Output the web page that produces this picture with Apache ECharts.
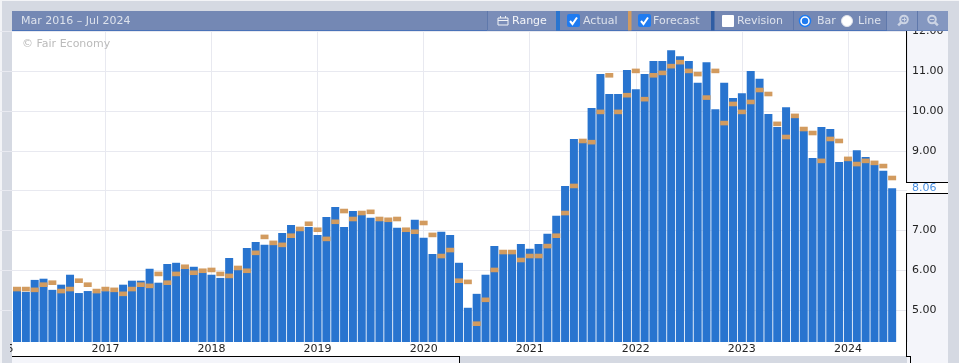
<!DOCTYPE html>
<html>
<head>
<meta charset="utf-8">
<title>Mar 2016 – Jul 2024</title>
<style>
html, body { margin: 0; padding: 0; background: #fff; }
#main { width: 959px; height: 363px; }
</style>
<script src="https://cdn.jsdelivr.net/npm/echarts@6/dist/echarts.min.js"></script>
</head>
<body>
<div id="main"></div>
<script>
// months counted from Jan 2016, first bar is Mar 2016
var firstMonth = 2;
var firstYear = 2016;

var actual = [
    5.51, 5.46, 5.76, 5.79, 5.51, 5.64, 5.89, 5.43, 5.48, 5.43,
    5.48, 5.46, 5.64, 5.74, 5.74, 6.04, 5.69, 6.16, 6.19, 6.04,
    6.09, 5.94, 5.89, 5.81, 6.31, 6.01, 6.56, 6.71, 6.64, 6.64,
    6.94, 7.14, 6.99, 7.09, 6.89, 7.34, 7.59, 7.09, 7.49, 7.39,
    7.32, 7.24, 7.22, 7.07, 6.97, 7.27, 6.82, 6.41, 6.97, 6.89,
    6.19, 5.06, 5.41, 5.89, 6.61, 6.41, 6.41, 6.66, 6.54, 6.66,
    6.92, 7.37, 8.12, 9.30, 9.22, 10.08, 10.93, 10.43, 10.43, 11.03,
    10.55, 10.93, 11.26, 11.26, 11.53, 11.38, 11.26, 10.71, 11.23, 10.05,
    10.71, 10.33, 10.45, 11.01, 10.81, 9.93, 9.60, 10.10, 9.83, 9.50,
    8.82, 9.60, 9.55, 8.72, 8.75, 9.02, 8.85, 8.65, 8.50, 8.06
];

var forecast = [
    5.53, 5.53, 5.51, 5.64, 5.69, 5.48, 5.53, 5.74, 5.64, 5.48,
    5.53, 5.51, 5.41, 5.53, 5.64, 5.61, 5.91, 5.69, 5.91, 6.09,
    5.94, 5.99, 6.01, 5.91, 5.86, 6.06, 5.99, 6.44, 6.84, 6.69,
    6.64, 6.87, 7.04, 7.17, 7.02, 6.79, 7.22, 7.49, 7.29, 7.44,
    7.47, 7.29, 7.27, 7.29, 7.02, 6.97, 7.19, 6.89, 6.36, 6.51,
    5.74, 5.71, 4.66, 5.26, 6.01, 6.46, 6.46, 6.26, 6.36, 6.36,
    6.61, 6.87, 7.44, 8.12, 9.25, 9.22, 9.98, 10.90, 9.98, 10.40,
    11.01, 10.30, 10.90, 10.96, 11.13, 11.23, 11.01, 10.93, 10.34, 11.01,
    9.70, 10.18, 9.98, 10.23, 10.53, 10.43, 9.68, 9.35, 9.88, 9.55,
    9.45, 8.75, 9.30, 9.25, 8.80, 8.67, 8.75, 8.70, 8.62, 8.32
];

var rangeLabel = 'Mar 2016 – Jul 2024';
var credit = '© Fair Economy';

function pairs(list) {
    return list.map(function (v, i) { return [firstMonth + i, v]; });
}

var font = '"DejaVu Sans"';
var barBlue = '#2874cf';
var markOrange = '#d29b5f';
var headText = '#dde2ec';

function box(x, y, w, h, fill, z, r) {
    return { type: 'rect', silent: true, z: z, shape: { x: x, y: y, width: w, height: h, r: r || 0 }, style: { fill: fill } };
}
function rule(x1, y1, x2, y2, color, z) {
    return { type: 'line', silent: true, z: z, shape: { x1: x1, y1: y1, x2: x2, y2: y2 }, style: { stroke: color, lineWidth: 1 } };
}
function label(x, y, str, fill, z, size) {
    return { type: 'text', silent: true, z: z, x: x, y: y, style: { text: str, fill: fill, font: (size || 11) + 'px ' + font, textVerticalAlign: 'middle' } };
}
function tickBox(x) {
    return [
        box(x, 14, 13, 13, '#1f7bf0', 51, 2),
        { type: 'polyline', silent: true, z: 52, shape: { points: [[x + 3, 21], [x + 5.5, 24], [x + 10, 17.5]] }, style: { stroke: '#fff', lineWidth: 2, fill: null } }
    ];
}
function radio(cx, on) {
    var out = [{ type: 'circle', silent: true, z: 51, shape: { cx: cx, cy: 21, r: 5.5 }, style: { fill: '#fff', stroke: on ? '#1f7bf0' : '#dfe3ec', lineWidth: on ? 1.5 : 1 } }];
    if (on) {
        out.push({ type: 'circle', silent: true, z: 52, shape: { cx: cx, cy: 21, r: 3.2 }, style: { fill: '#1f7bf0' } });
    }
    return out;
}
// dir -1 handle runs down left, dir 1 handle runs down right
function glass(cx, dir) {
    return [
        { type: 'circle', silent: true, z: 51, shape: { cx: cx, cy: 19.5, r: 3.8 }, style: { fill: null, stroke: '#ccd4e4', lineWidth: 2 } },
        { type: 'line', silent: true, z: 51, shape: { x1: cx + dir * 2.8, y1: 22.3, x2: cx + dir * 5.8, y2: 25.3 }, style: { stroke: '#ccd4e4', lineWidth: 2.5 } }
    ];
}

var panels = [
    // page frame
    box(0, 0, 959, 363, '#f3f4f7', -10),
    box(2, 1, 957, 362, '#d5d9e2', -9),
    box(12, 31, 895, 325, '#ffffff', -8),
    box(907, 31, 41, 332, '#f4f5fa', -8),
    box(12, 357, 447, 6, '#f4f5fa', -8),
    // frame lines
    rule(12, 356.5, 460, 356.5, '#000', 3),
    rule(459.5, 356, 459.5, 363, '#000', 3),
    rule(906.5, 31, 906.5, 182, '#000', 3),
    rule(906.5, 193, 906.5, 356, '#000', 3),
    rule(906, 356.5, 911, 356.5, '#000', 3),
    rule(910.5, 356, 910.5, 363, '#000', 3),
    // tag behind latest value
    box(907, 183, 41, 10, '#ffffff', 3),
    rule(906, 182.5, 948, 182.5, '#000', 3),
    rule(906, 193.5, 948, 193.5, '#000', 3),
    // left cover, only the end of the first year label shows
    box(2, 342, 8, 14, '#d5d9e2', 50),
    box(0, 342, 2, 14, '#f3f4f7', 50),
    // toolbar
    box(12, 11, 936, 19.5, '#7488b4', 50),
    box(12, 30, 936, 1, '#4a72b8', 50),
    box(487, 11, 69, 19.5, '#7a8db8', 50),
    box(556, 11, 4, 19.5, '#2a75cf', 51),
    box(628, 11, 3.5, 19.5, '#d29b5f', 51),
    box(711, 11, 3.5, 19.5, '#2f5da3', 51),
    box(887, 11, 30, 19.5, '#8497c0', 50),
    box(918, 11, 30, 19.5, '#8497c0', 50),
    rule(487.5, 11, 487.5, 30, '#5f78ab', 51),
    rule(793.5, 11, 793.5, 30, '#5f78ab', 51),
    rule(886.5, 11, 886.5, 30, '#5f78ab', 51),
    rule(917.5, 11, 917.5, 30, '#5f78ab', 51),
    label(21, 21, rangeLabel, headText, 52),
    // range icon
    { type: 'rect', silent: true, z: 51, shape: { x: 498, y: 18, width: 10, height: 7 }, style: { fill: null, stroke: '#f0f2f6', lineWidth: 1 } },
    rule(498, 20.5, 508, 20.5, '#f0f2f6', 51),
    rule(500.5, 16, 500.5, 18, '#f0f2f6', 51),
    rule(505.5, 16, 505.5, 18, '#f0f2f6', 51),
    label(512, 21, 'Range', '#f4f5f8', 52),
    label(583, 21, 'Actual', headText, 52),
    label(653, 21, 'Forecast', headText, 52),
    box(722, 15, 12, 12, '#ffffff', 51, 1),
    label(737, 21, 'Revision', headText, 52),
    label(817, 21, 'Bar', headText, 52),
    label(858, 21, 'Line', headText, 52)
].concat(radio(805, true), radio(847, false), tickBox(567), tickBox(638), glass(904, -1), glass(932, 1));

// plus and minus on the two zoom buttons
panels.push(rule(902, 19.5, 906, 19.5, '#ccd4e4', 52));
panels.push(rule(904.5, 17.5, 904.5, 21.5, '#ccd4e4', 52));
panels.push(rule(930, 19.5, 934, 19.5, '#ccd4e4', 52));

var myChart = echarts.init(document.getElementById('main'), null, { renderer: 'canvas' });
var option = {
    animation: false,
    backgroundColor: 'transparent',
    textStyle: { fontFamily: font },
    grid: { left: -0.68, right: 52, top: 31.5, bottom: 21, outerBoundsMode: 'none' },
    xAxis: {
        type: 'value',
        min: 0,
        max: 102.68,
        interval: 12,
        axisLine: { show: false },
        axisTick: { show: false },
        axisLabel: {
            margin: 2,
            color: '#222',
            fontSize: 11,
            fontFamily: font,
            showMaxLabel: false,
            hideOverlap: false,
            formatter: function (v) { return v % 12 === 0 ? String(firstYear + v / 12) : ''; }
        },
        splitLine: { show: true, lineStyle: { color: '#e8e9f0', width: 1 } }
    },
    yAxis: {
        type: 'value',
        position: 'right',
        min: 4.2,
        max: 12,
        splitNumber: 8,
        axisLine: { show: false },
        axisTick: { show: false },
        axisLabel: {
            margin: 5,
            color: '#222',
            fontSize: 11,
            fontFamily: font,
            showMinLabel: false,
            formatter: function (v) { return v.toFixed(2); }
        },
        splitLine: { show: true, showMinLine: false, lineStyle: { color: '#e8e9f0', width: 1 } }
    },
    graphic: { elements: panels.concat([label(22, 44, credit, '#bbbbbb', 1)]) },
    series: [
        {
            name: 'Actual',
            type: 'bar',
            barWidth: 8,
            itemStyle: { color: barBlue },
            data: pairs(actual),
            markLine: {
                silent: true,
                symbol: 'none',
                lineStyle: { color: 'transparent', width: 0 },
                label: {
                    position: 'end',
                    distance: 5,
                    color: '#4a90e2',
                    fontSize: 11,
                    fontFamily: font,
                    formatter: function (p) { return p.value.toFixed(2); }
                },
                data: [{ yAxis: actual[actual.length - 1] }]
            }
        },
        {
            name: 'Forecast',
            type: 'scatter',
            symbol: 'rect',
            symbolSize: [8, 4.6],
            itemStyle: { color: markOrange, opacity: 1 },
            data: pairs(forecast)
        }
    ]
};
myChart.setOption(option);
</script>
</body>
</html>
